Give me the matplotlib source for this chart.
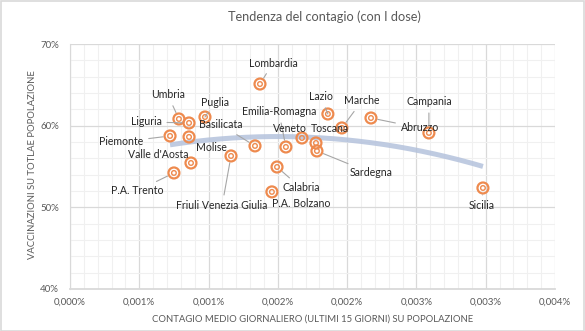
import matplotlib
matplotlib.use("Agg")
import matplotlib.pyplot as plt
from matplotlib.ticker import MultipleLocator, FuncFormatter
from matplotlib.patches import Rectangle
import numpy as np

plt.rcParams['font.family'] = ['Lato', 'DejaVu Sans']

# ---- data (x: contagio medio giornaliero su popolazione, in %; y: vaccinazioni I dose, in %)
regions = ["Lombardia", "Umbria", "Liguria", "Puglia", "Piemonte", "Molise",
           "Valle d'Aosta", "P.A. Trento", "Friuli Venezia Giulia", "Basilicata",
           "Emilia-Romagna", "Veneto", "Calabria", "P.A. Bolzano", "Lazio",
           "Marche", "Toscana", "Sardegna", "Abruzzo", "Campania", "Sicilia"]
contagio = [0.001371, 0.000786, 0.000859, 0.000974, 0.000722, 0.000859,
            0.000873, 0.000750, 0.001162, 0.001335,
            0.001558, 0.001674, 0.001494, 0.001457, 0.001861,
            0.001962, 0.001775, 0.001782, 0.002172, 0.002590, 0.002980]
vaccinati = [65.10, 60.82, 60.33, 61.06, 58.74, 58.62,
             55.43, 54.21, 56.29, 57.52,
             57.39, 58.49, 54.94, 51.89, 61.43,
             59.72, 57.88, 56.90, 60.94, 59.11, 52.37]

# label layout (offsets in pixels) and leader-line flags
label_offsets = [(13, 21), (-11, 24), (-43, 1), (10, 15), (-49, -6), (22, -11),
                 (-33, 8), (-37, -18), (-9, -50), (-34, 21),
                 (-7, 35), (-12, 9), (24, -21), (29, -12), (-7, 17),
                 (20, 27), (14, 14), (54, -22), (49, -10), (0, 31), (-1, -18)]
leader = [True, True, True, True, True, False,
          False, True, True, True,
          True, False, True, False, True,
          True, False, True, True, True, True]

title = "Tendenza del contagio (con I dose)"
xlabel = "CONTAGIO MEDIO GIORNALIERO (ULTIMI 15 GIORNI) SU POPOLAZIONE"
ylabel = "VACCINAZIONI SU TOTLAE POPOLAZIONE"

W, H = 585, 331
fig = plt.figure(figsize=(W / 100, H / 100), dpi=100)
ax = fig.add_axes([70 / W, 1 - 289 / H, (555 - 70) / W, (289 - 44) / H])

ax.set_xlim(0, 0.0035)
ax.set_ylim(40, 70)
ax.xaxis.set_major_locator(MultipleLocator(0.0005))
ax.xaxis.set_minor_locator(MultipleLocator(0.0001))
ax.yaxis.set_major_locator(MultipleLocator(10))
ax.yaxis.set_minor_locator(MultipleLocator(2))
ax.grid(which='major', color='#D9D9D9', lw=0.9, zorder=0)
ax.grid(which='minor', color='#F0F0F0', lw=0.8, zorder=0)
ax.set_axisbelow(True)

def xfmt(v, pos):
    s = "%.3f%%" % (round(v * 1000 + 1e-9) / 1000 if v * 1000 % 1 != 0.5 else (np.floor(v * 1000) + 1) / 1000)
    return s.replace('.', ',')

def xfmt2(v, pos):
    d = int(np.floor(v * 1000 + 0.5 + 1e-9))
    return ("%.3f%%" % (d / 1000)).replace('.', ',')

ax.xaxis.set_major_formatter(FuncFormatter(xfmt2))
ax.yaxis.set_major_formatter(FuncFormatter(lambda v, p: "%d%%" % v))
ax.tick_params(which='both', length=0)
ax.tick_params(axis='x', pad=6, labelsize=7, labelcolor='#595959')
ax.tick_params(axis='y', pad=8, labelsize=7, labelcolor='#595959')
for s in ['top', 'right']:
    ax.spines[s].set_visible(False)
ax.spines['left'].set_color('#D9D9D9')
ax.spines['bottom'].set_color('#D9D9D9')
ax.spines['bottom'].set_linewidth(1.3)

# trendline (polynomial order 2)
cx = np.array(contagio)
vy = np.array(vaccinati)
coef = np.polyfit(cx, vy, 2)
xx = np.linspace(cx.min(), cx.max(), 200)
ax.plot(xx, np.polyval(coef, xx), color='#B4C2DC', lw=3.6, alpha=0.85,
        solid_capstyle='butt', zorder=2)

# markers
ax.scatter(contagio, vaccinati, s=62, facecolors='none', edgecolors='#EE8A4E',
           linewidths=1.6, zorder=3)
ax.scatter(contagio, vaccinati, s=11, facecolors='none', edgecolors='#EE8A4E',
           linewidths=1.0, zorder=3)

for name, x, y, off, ld in zip(regions, contagio, vaccinati, label_offsets, leader):
    ap = dict(arrowstyle='-', color='#A6A6A6', lw=0.8, shrinkA=2, shrinkB=5) if ld else None
    ax.annotate(name, (x, y), xytext=off, textcoords='offset pixels',
                ha='center', va='center', fontsize=7.6, color='#262626',
                arrowprops=ap, zorder=4)

fig.text(324 / W, 1 - 17 / H, title, ha='center', va='center', fontsize=9.2, color='#595959')
fig.text(313 / W, 1 - 319 / H, xlabel, ha='center', va='center', fontsize=6.8, color='#595959')
fig.text(33 / W, 1 - 165 / H, ylabel, ha='center', va='center', rotation=90, fontsize=6.8, color='#595959')

fig.patches.append(Rectangle((0.5 / W, 0.5 / H), 1 - 1.5 / W, 1 - 1.5 / H, transform=fig.transFigure,
                             fill=False, edgecolor='#D9D9D9', lw=1.2))

fig.savefig("out.png", dpi=100)
